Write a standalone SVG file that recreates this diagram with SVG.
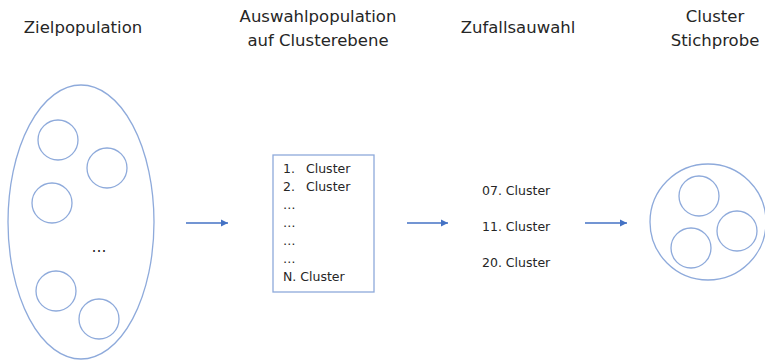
<svg xmlns="http://www.w3.org/2000/svg" width="765" height="360" viewBox="0 0 765 360">
<defs>
<style>
.t{font-family:"DejaVu Sans","Liberation Sans",sans-serif;font-size:16.5px;fill:#262626;text-anchor:middle}
.s{font-family:"DejaVu Sans","Liberation Sans",sans-serif;font-size:12.5px;fill:#262626}
.c{fill:none;stroke:#8eaadb;stroke-width:1.3}
.a{stroke:#4472c4;stroke-width:1.5;fill:none}
</style>
<marker id="ah" markerWidth="8" markerHeight="8" refX="7" refY="4" orient="auto" markerUnits="userSpaceOnUse">
<path d="M0,0.5 L7,4 L0,7.5 z" fill="#4472c4"/>
</marker>
</defs>
<rect width="765" height="360" fill="#fff"/>
<g id="titles">
<text class="t" x="83" y="33">Zielpopulation</text>
<text class="t" x="318" y="22">Auswahlpopulation</text>
<text class="t" x="318" y="46">auf Clusterebene</text>
<text class="t" x="518" y="33">Zufallsauwahl</text>
<text class="t" x="715" y="22">Cluster</text>
<text class="t" x="715" y="46">Stichprobe</text>
</g>
<g id="zielpopulation">
<ellipse class="c" cx="81" cy="222" rx="73" ry="137"/>
<circle class="c" cx="58" cy="140" r="20"/>
<circle class="c" cx="107" cy="168" r="20"/>
<circle class="c" cx="52" cy="203" r="20"/>
<circle class="c" cx="56" cy="291" r="20"/>
<circle class="c" cx="99" cy="319" r="20"/>
<text class="s" x="99" y="252" text-anchor="middle" style="font-size:15px">…</text>
</g>
<g id="auswahlpopulation">
<rect class="c" x="273" y="155" width="101" height="137"/>
<text class="s" x="283" y="173">1.<tspan x="306">Cluster</tspan></text>
<text class="s" x="283" y="191">2.<tspan x="306">Cluster</tspan></text>
<text class="s" x="283" y="209">…</text>
<text class="s" x="283" y="227">…</text>
<text class="s" x="283" y="245">…</text>
<text class="s" x="283" y="263">…</text>
<text class="s" x="283" y="281">N. Cluster</text>
</g>
<g id="zufallsauswahl">
<text class="s" x="482" y="195">07. Cluster</text>
<text class="s" x="482" y="231">11. Cluster</text>
<text class="s" x="482" y="267">20. Cluster</text>
</g>
<g id="stichprobe">
<circle class="c" cx="708" cy="222" r="58"/>
<circle class="c" cx="699" cy="196" r="20"/>
<circle class="c" cx="737" cy="231" r="20"/>
<circle class="c" cx="691" cy="248" r="20"/>
</g>
<g id="connectors">
<line class="a" x1="186" y1="223" x2="228" y2="223" marker-end="url(#ah)"/>
<line class="a" x1="407" y1="223" x2="448" y2="223" marker-end="url(#ah)"/>
<line class="a" x1="585" y1="223" x2="627" y2="223" marker-end="url(#ah)"/>
</g>
</svg>
